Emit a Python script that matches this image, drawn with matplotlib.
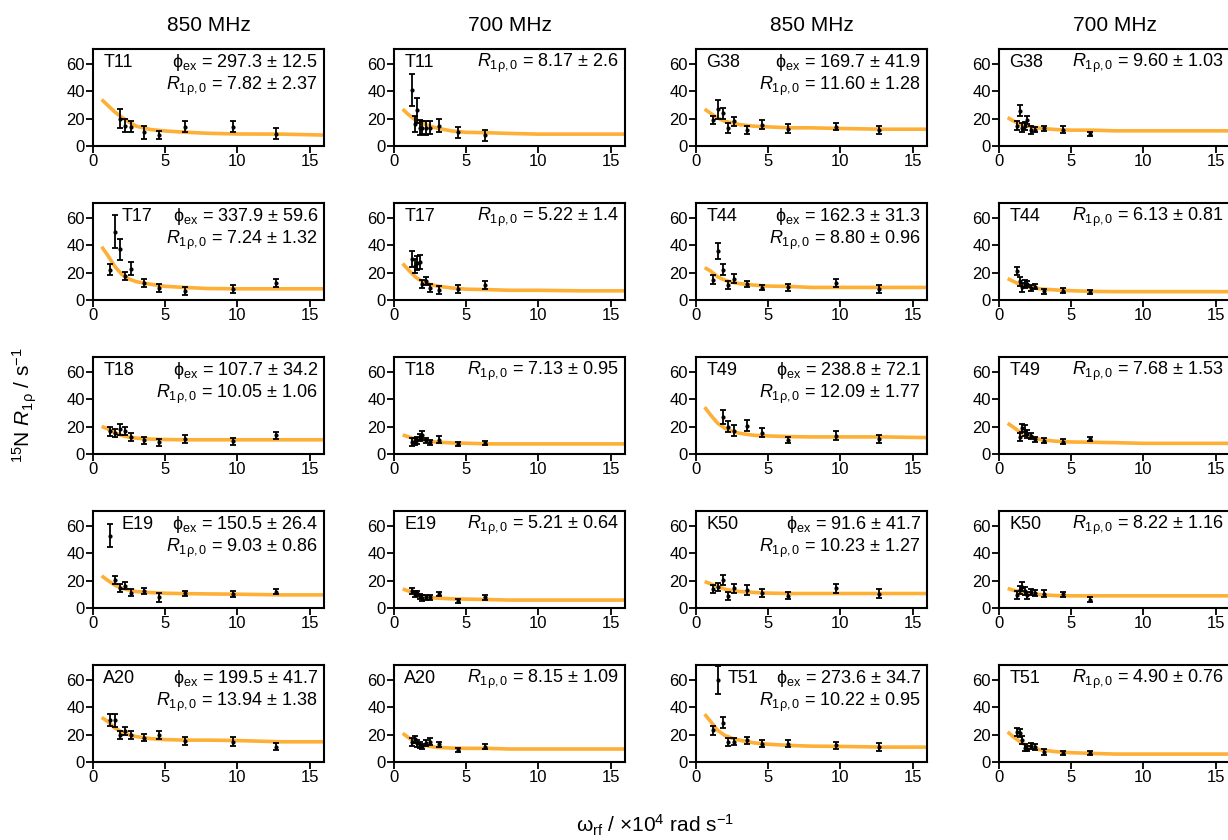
import numpy as np
import matplotlib
matplotlib.use("Agg")
import matplotlib.pyplot as plt

plt.rcParams['font.family'] = ['Liberation Sans', 'DejaVu Sans']
plt.rcParams['mathtext.fontset'] = 'custom'
plt.rcParams['mathtext.rm'] = 'Liberation Sans'
plt.rcParams['mathtext.it'] = 'Liberation Sans:italic'
plt.rcParams['mathtext.fallback'] = 'stixsans'

nan = np.nan

# spin-lock field strengths (x10^4 rad/s)
x850 = [1.2, 1.55, 1.85, 2.2, 2.6, 3.5, 4.6, 6.4, 9.7, 12.7]
x700 = [1.25, 1.45, 1.6, 1.8, 1.95, 2.2, 2.5, 3.1, 4.4, 6.3]
fit_x = [0.6, 1, 1.5, 2, 2.5, 3, 4, 5, 6.5, 8, 10, 13, 16]

res_left = ["T11", "T17", "T18", "E19", "A20"]
res_right = ["G38", "T44", "T49", "K50", "T51"]

# measured R1rho at 850 MHz
r850 = {
    "T11": [nan, nan, 20, 15, 14, 10, 8, 14, 14, 9],
    "T17": [22, 50, 37, 17.5, 23, 12.7, 8.6, 6.7, 8, 12.7],
    "T18": [16.5, 15.3, 18, 17, 12.3, 9.9, 8.6, 11, 9.4, 13.6],
    "E19": [52.8, 20.4, 14.9, 16.3, 11.3, 12.5, 7.7, 10.8, 10.1, 12],
    "A20": [30.5, 30.5, 19.5, 22.6, 19.5, 17.9, 19.5, 15.5, 15, 11.2],
    "G38": [19, 27, 24, 13.3, 18, 12, 15.7, 12.8, 14, 11.6],
    "T44": [15, 35.8, 22, 10.9, 15.7, 11.6, 9, 9.2, 12.6, 8],
    "T49": [nan, nan, 27, 20, 17, 20.6, 15.7, 10.3, 13.5, 10.8],
    "K50": [13.8, 15.6, 20.5, 8.6, 14.3, 13, 11, 8.9, 14.3, 10.6],
    "T51": [23.2, 60, 28.6, 14.8, 14.8, 16, 13.3, 13.3, 12.1, 10.9],
}
e850 = {
    "T11": [nan, nan, 7, 5, 4, 5, 3, 4, 4, 4],
    "T17": [4, 12, 8, 3, 5, 3, 3, 3, 3, 3],
    "T18": [3.5, 3, 4, 3, 3, 2.5, 2.5, 3, 2.5, 2.5],
    "E19": [8.5, 3, 3, 2.5, 2.5, 2.5, 3, 2, 2, 2],
    "A20": [4.5, 5, 3, 3, 3, 2.5, 3, 3, 3, 2.5],
    "G38": [3, 7, 4, 3.5, 3, 3, 3.5, 3.5, 2.5, 3],
    "T44": [3, 6, 4, 3, 3, 2, 2, 2.5, 3, 3],
    "T49": [nan, nan, 5, 4, 4, 4, 3.5, 2.5, 3.5, 3],
    "K50": [3, 3, 4, 3, 3, 3.5, 3, 2.5, 3, 3],
    "T51": [3.5, 10.5, 4, 3, 2.5, 2.5, 2.5, 2.5, 2.5, 3],
}
fit850 = {
    "T11": [34, 30, 25, 21, 17.5, 14.5, 12, 11, 10, 9.3, 8.8, 8.7, 8.0],
    "T17": [39, 33, 24.7, 18.7, 15.3, 13.4, 11.5, 10, 9.1, 8.4, 8.2, 8.2, 8.2],
    "T18": [20.2, 18.5, 15.6, 13.6, 12.3, 11.6, 10.9, 10.6, 10.4, 10.4, 10.4, 10.4, 10.4],
    "E19": [23.5, 20.4, 16.8, 14.4, 13.2, 12, 11.3, 10.8, 10.5, 10.3, 10.1, 9.6, 9.6],
    "A20": [32.6, 29.8, 25, 21.9, 20, 18.6, 17.1, 16.4, 16, 16, 15.7, 14.8, 14.8],
    "G38": [27, 24, 20.5, 18, 17, 15.7, 14.5, 14, 13.3, 13.3, 12.8, 12.3, 12.3],
    "T44": [23.7, 21.3, 17, 14.5, 13, 12, 10.9, 10.2, 9.9, 9.2, 9.2, 9.2, 9.2],
    "T49": [34.3, 28.7, 22.5, 18.9, 16.7, 15.2, 13.7, 13.2, 12.7, 12.5, 12.5, 12.5, 12],
    "K50": [19.3, 17.8, 15.6, 13.8, 12.8, 12.1, 11.4, 10.9, 10.6, 10.6, 10.6, 10.6, 10.6],
    "T51": [35, 29.8, 23.2, 19.4, 17.4, 16, 14, 13, 12.1, 11.6, 11.4, 10.9, 10.9],
}

# measured R1rho at 700 MHz
r700 = {
    "T11": [41, 16, 26, 13.5, 13.5, 13, 13.5, 15, 10, 8],
    "T17": [30, 25, 27, 28, 12, 14, 9, 7.6, 8.3, 10.7],
    "T18": [8.6, 9.4, 10, 12.3, 13.6, 10, 8.6, 10.6, 7.4, 8.1],
    "E19": [12.5, 10.1, 10.8, 8.4, 7.2, 7.7, 7.7, 10.1, 5.3, 7.7],
    "A20": [14.8, 16.7, 13.6, 12.4, 11.4, 13.8, 14.8, 13, 8.8, 11.2],
    "G38": [15, 25.7, 13.5, 14.5, 19, 12, 12, 13, 12, 8.7],
    "T44": [21, 13.6, 9.2, 12, 11.6, 8.7, 9.7, 6.3, 6.8, 5.6],
    "T49": [nan, 12.7, 19, 17, 14.7, 13.2, 10.8, 9.8, 9, 10.8],
    "K50": [9.4, 13, 15.6, 12.3, 9.4, 11.8, 11, 10.6, 9.9, 6.2],
    "T51": [22, 21.3, 16, 10.4, 9.7, 11.6, 11.1, 7.3, 6.8, 6.3],
}
e700 = {
    "T11": [12, 6, 9, 5.5, 5, 5, 5, 5, 4, 4],
    "T17": [6, 5, 5, 5, 3, 3, 3, 3, 3, 3],
    "T18": [3, 2.5, 2.5, 2.5, 3, 2, 2, 2.5, 1.5, 1.5],
    "E19": [2, 2, 2, 2, 2, 2, 2, 1.5, 1.5, 1.5],
    "A20": [3, 2.5, 2.5, 2, 2, 2, 2.5, 2, 1.5, 2],
    "G38": [3, 4, 3, 3, 3, 3, 2, 2, 2.5, 1.5],
    "T44": [3, 3, 3, 3, 2, 2, 2, 2, 2, 1.5],
    "T49": [nan, 3, 3, 4, 3, 2, 2, 2, 2, 1.5],
    "K50": [3, 3, 3.5, 3, 2.5, 2, 2, 2.5, 2, 2],
    "T51": [3, 3, 3, 2.5, 2, 2, 2, 2, 1.5, 1.5],
}
fit700 = {
    "T11": [27, 23, 19, 16.5, 14.5, 13, 11, 10, 9.7, 9.2, 8.7, 8.7, 8.7],
    "T17": [26.7, 22, 16.7, 13.3, 11.4, 10.2, 8.8, 7.9, 7.6, 7.1, 7.1, 6.7, 6.7],
    "T18": [14, 12.6, 11, 9.9, 9.1, 8.6, 8.1, 7.9, 7.4, 7.4, 7.4, 7.4, 7.4],
    "E19": [13.9, 12.5, 10.1, 8.4, 7.7, 7.2, 6.7, 6.5, 6.2, 5.8, 5.8, 5.8, 5.8],
    "A20": [21, 17.9, 14.3, 12.4, 11.4, 10.7, 10.2, 10, 10, 9.5, 9.5, 9.5, 9.5],
    "G38": [20.8, 18.4, 15.7, 14.5, 13.6, 12.8, 12, 11.6, 11.6, 11.1, 11.1, 11.1, 11.1],
    "T44": [15.7, 13.6, 11.1, 9.7, 8.7, 8, 7.3, 6.8, 6.3, 6.1, 6.1, 6.1, 6.1],
    "T49": [22.5, 19.6, 15.7, 13.2, 11.5, 10.3, 9.3, 8.8, 8.6, 8.3, 7.8, 7.8, 7.8],
    "K50": [14.3, 13, 11.8, 10.6, 10.1, 9.6, 9.1, 8.9, 8.9, 8.9, 8.9, 8.9, 8.9],
    "T51": [22, 18.4, 14.5, 11.6, 9.7, 8.7, 7.5, 6.8, 6.3, 5.8, 5.8, 5.8, 5.8],
}

phi_ex = {"T11": "297.3 ± 12.5", "T17": "337.9 ± 59.6", "T18": "107.7 ± 34.2",
          "E19": "150.5 ± 26.4", "A20": "199.5 ± 41.7", "G38": "169.7 ± 41.9",
          "T44": "162.3 ± 31.3", "T49": "238.8 ± 72.1", "K50": "91.6 ± 41.7",
          "T51": "273.6 ± 34.7"}
r0_850 = {"T11": "7.82 ± 2.37", "T17": "7.24 ± 1.32", "T18": "10.05 ± 1.06",
          "E19": "9.03 ± 0.86", "A20": "13.94 ± 1.38", "G38": "11.60 ± 1.28",
          "T44": "8.80 ± 0.96", "T49": "12.09 ± 1.77", "K50": "10.23 ± 1.27",
          "T51": "10.22 ± 0.95"}
r0_700 = {"T11": "8.17 ± 2.6", "T17": "5.22 ± 1.4", "T18": "7.13 ± 0.95",
          "E19": "5.21 ± 0.64", "A20": "8.15 ± 1.09", "G38": "9.60 ± 1.03",
          "T44": "6.13 ± 0.81", "T49": "7.68 ± 1.53", "K50": "8.22 ± 1.16",
          "T51": "4.90 ± 0.76"}

# residues whose label sits further right (data point in the corner)
label_shift = {"T17": 0.125, "E19": 0.125, "T51": 0.135}

W, H = 1228, 840
col_left = [93, 394, 696, 999]
row_bottom = [146, 300, 454, 608, 762]
ax_w, ax_h = 231, 97
orange = '#fdb035'
R10 = r'$\mathit{R}_{\mathrm{1ρ,0}}$'

fig = plt.figure(figsize=(W / 100, H / 100), dpi=100)

columns = [(res_left, '850'), (res_left, '700'), (res_right, '850'), (res_right, '700')]
for c, (residues, field) in enumerate(columns):
    for r, res in enumerate(residues):
        ax = fig.add_axes([col_left[c] / W, 1 - row_bottom[r] / H, ax_w / W, ax_h / H])
        if field == '850':
            xs, ys, es, fy = x850, r850[res], e850[res], fit850[res]
        else:
            xs, ys, es, fy = x700, r700[res], e700[res], fit700[res]
        ax.plot(fit_x, fy, color=orange, lw=2.6, zorder=2, solid_capstyle='butt')
        ax.errorbar(xs, ys, yerr=es, fmt='o', ms=2.0, color='black', ecolor='black',
                    elinewidth=1.3, capsize=2, capthick=1.3, zorder=3)
        ax.set_xlim(0, 16)
        ax.set_ylim(0, 71)
        ax.set_xticks([0, 5, 10, 15])
        ax.set_yticks([0, 20, 40, 60])
        ax.tick_params(direction='out', length=5, width=1.3, labelsize=12, pad=1)
        for sp in ax.spines.values():
            sp.set_linewidth(1.5)

        lx = label_shift.get(res, 0.045) if field == '850' else 0.045
        ax.text(lx, 0.814, res, transform=ax.transAxes, fontsize=13, va='baseline')
        if field == '850':
            ax.text(0.975, 0.814, r'$\mathrm{\phi}_{\mathrm{ex}}$ = ' + phi_ex[res],
                    transform=ax.transAxes, fontsize=13, ha='right', va='baseline')
            ax.text(0.975, 0.58, R10 + ' = ' + r0_850[res],
                    transform=ax.transAxes, fontsize=13, ha='right', va='baseline')
        else:
            ax.text(0.975, 0.814, R10 + ' = ' + r0_700[res],
                    transform=ax.transAxes, fontsize=13, ha='right', va='baseline')

    fig.text((col_left[c] + ax_w / 2) / W, 1 - 31 / H, field + ' MHz',
             fontsize=15, ha='center', va='baseline')

fig.text(25 / W, 1 - 405 / H, r'$^{15}$N $\mathit{R}_{\mathrm{1ρ}}$ / s$^{-1}$',
         rotation=90, fontsize=15, ha='center', va='center')
fig.text(655 / W, 1 - 832 / H,
         r'$\mathrm{ω}_{\mathrm{rf}}$ / ×10$^{4}$ rad s$^{-1}$',
         fontsize=15, ha='center', va='baseline')

fig.savefig('out.png', dpi=100)
